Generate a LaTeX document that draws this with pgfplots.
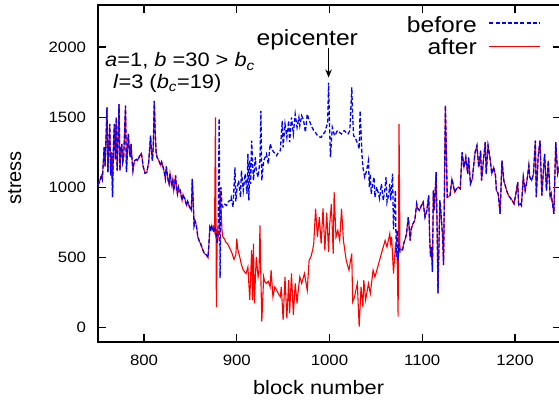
\documentclass[border=0pt]{standalone}
\usepackage{fontspec}
\setmainfont{Liberation Sans}[FakeStretch=1.12]
\newfontfamily\ylabfont{Liberation Sans}
\usepackage{pgfplots}
\usepackage{pgfplotstable}
\pgfplotsset{compat=1.18}
\usetikzlibrary{arrows.meta}
\definecolor{gpblue}{RGB}{0,0,255}
\definecolor{gpred}{RGB}{255,0,0}

\pgfplotstableread{
b s
750 1013
752 1040
754 1085
755 1060
757 1286
758 1150
760 1570
761 1108
762 1290
763 1452
764 1085
765 1250
766 930
767 1300
768 1452
769 1200
770 1499
771 1120
772 1350
773 1594
774 1120
775 1250
776 1310
777 1180
778 1215
779 1400
780 1582
781 1108
782 1250
783 1381
784 1280
785 1215
786 1310
787 1200
788 1120
789 1170
790 1191
792 1200
793 1191
795 1220
797 1243
798 1203
799 1150
801 1101
803 1108
805 1180
807 1369
808 1250
809 1191
810 1300
811 1617
812 1400
813 1250
814 1215
816 1190
818 1156
819 1180
821 1132
822 1100
823 1061
824 1150
825 1097
826 1050
827 1025
828 1100
829 1049
830 1010
831 1060
832 978
833 1020
834 1085
835 990
836 954
837 1000
838 970
839 978
840 940
841 907
842 950
843 930
844 919
845 890
846 871
847 900
848 883
849 860
850 850
851 836
852 1061
853 900
854 729
855 760
856 741
857 700
858 646
860 610
861 599
863 560
865 528
867 520
868 511
869 500
870 600
871 717
872 700
873 729
874 700
}\commonleft

\pgfplotstableread{
b s
874 700
875 690
876 720
877 700
878 650
879 600
880 750
881 1490
882 353
883 1002
884 870
885 860
887 880
889 871
891 900
893 907
894 930
896 860
898 1143
899 900
900 978
902 1049
904 930
905 1120
907 978
909 1097
911 954
912 1238
913 907
914 1191
915 1025
916 1333
918 1049
920 1215
921 1120
923 1073
925 1191
926 1546
927 1049
929 1191
931 1220
932 1238
934 1167
936 1310
938 1270
940 1250
942 1240
943 1227
945 1250
947 1262
949 1475
950 1286
952 1452
954 1357
956 1475
957 1322
959 1499
961 1381
963 1523
965 1428
967 1499
968 1440
970 1511
972 1480
974 1393
976 1523
978 1475
979 1464
981 1430
983 1405
985 1390
987 1369
989 1360
991 1357
993 1380
995 1393
997 1440
998 1452
999 1747
1000 1452
1001 1215
1003 1428
1005 1380
1006 1369
1008 1400
1009 1405
1011 1390
1013 1381
1015 1400
1016 1405
1018 1390
1020 1381
1022 1405
1024 1712
1025 1500
1026 1369
1028 1350
1029 1334
1031 1300
1032 1274
1033 1546
1034 1400
1035 1238
1036 1143
1038 1073
1040 1120
1042 1191
1043 1002
1044 1097
1045 954
1047 1040
1048 1073
1049 930
1051 1002
1053 950
1054 919
1056 1025
1058 907
1060 1000
1061 1073
1062 895
1064 950
1065 1025
1066 907
1068 1097
1069 700
1070 836
1071 978
1072 505
1073 693
1074 480
1075 600
1076 540
1078 552
}\beforemid

\pgfplotstableread{
b s
874 700
875 720
876 690
877 1499
878 149
879 700
880 650
881 700
882 978
883 860
884 700
885 646
887 630
888 610
890 599
893 560
895 528
897 486
899 520
900 635
901 560
903 510
905 450
907 410
910 386
912 432
914 197
916 552
917 197
918 599
919 173
921 505
923 362
924 400
925 729
926 350
927 43
929 362
930 330
932 315
934 330
936 291
937 410
939 220
941 290
943 267
945 240
947 220
948 290
950 55
952 362
954 67
956 338
957 102
959 386
961 91
963 315
965 173
966 250
968 362
970 315
973 386
976 267
978 481
980 505
982 560
983 599
985 848
987 646
989 788
991 599
993 850
995 550
997 820
999 540
1000 717
1002 883
1004 528
1005 966
1007 646
1009 693
1011 622
1013 848
1015 622
1018 481
1021 410
1024 528
1025 185
1027 220
1030 315
1032 7
1034 291
1036 149
1037 338
1039 197
1042 315
1044 244
1047 410
1049 362
1052 432
1055 505
1057 552
1060 622
1062 575
1065 670
1066 599
1067 646
1069 386
1071 575
1073 505
1074 78
1075 1452
1076 560
1078 552
}\aftermid

\pgfplotstableread{
b s
1078 552
1079 560
1080 599
1082 640
1083 670
1085 788
1087 620
1088 700
1090 741
1092 764
1094 883
1095 850
1097 836
1099 870
1101 895
1103 788
1105 836
1107 942
1108 646
1109 505
1110 575
1111 398
1112 978
1113 836
1115 1108
1116 741
1117 244
1119 907
1120 836
1122 646
1123 446
1125 1582
1127 930
1130 942
1132 1061
1134 1000
1135 966
1137 990
1139 1002
1141 990
1143 1250
1145 1143
1147 1215
1149 1097
1150 1215
1152 1025
1154 1061
1157 1250
1159 1298
1161 1143
1163 1262
1164 1049
1166 1191
1168 1322
1169 1097
1171 1298
1173 1215
1175 1097
1177 1143
1179 1085
1180 978
1182 954
1184 812
1186 1191
1188 1049
1191 978
1193 942
1197 907
1199 883
1201 954
1203 1037
1204 871
1206 883
1207 871
1209 1073
1211 978
1213 1049
1215 1156
1216 1073
1218 1049
1220 1097
1222 1333
1223 930
1225 1215
1227 1333
1229 942
1230 1049
1232 1238
1234 978
1236 1191
1238 930
1239 954
1242 812
1244 1322
1246 1097
1248 1150
1250 1000
}\commonright

\tikzset{
  beforestyle/.style={color=gpblue, line width=1.3pt, dash pattern=on 4pt off 2.2pt},
  afterstyle/.style={color=gpred, line width=1.1pt, solid},
}

\begin{document}
\begin{tikzpicture}
\begin{axis}[
  scale only axis,
  width=463.6pt, height=336.7pt,
  xmin=750, xmax=1250, ymin=-100, ymax=2300,
  xtick={800,900,1000,1100,1200},
  ytick={0,500,1000,1500,2000},
  tick pos=both,
  xticklabel pos=lower, yticklabel pos=left,
  tick align=inside,
  major tick length=8pt,
  minor tick num=0,
  axis line style={line width=1.8pt},
  every tick/.style={black, line width=1.3pt},
  tick label style={font=\fontsize{15}{18}\selectfont},
  /pgf/number format/assume math mode=true,
  /pgf/number format/1000 sep={},
  xticklabel style={inner sep=0pt, yshift=-13.5pt},
  yticklabel style={inner sep=0pt, xshift=-11.5pt},
  xlabel={block number},
  ylabel={stress},
  xlabel style={at={(axis description cs:0.4765,-0.1365)}, anchor=center, inner sep=0pt, font=\fontsize{19.5}{22}\selectfont},
  ylabel style={at={(axis description cs:-0.179,0.487)}, anchor=center, inner sep=0pt, font={\ylabfont\fontsize{20}{24}\selectfont}},
]
\addplot[afterstyle] table[x=b, y=s] {\commonleft};
\addplot[afterstyle] table[x=b, y=s] {\aftermid};
\addplot[afterstyle] table[x=b, y=s] {\commonright};
\addplot[beforestyle] table[x=b, y=s] {\commonleft};
\addplot[beforestyle] table[x=b, y=s] {\beforemid};
\addplot[beforestyle] table[x=b, y=s] {\commonright};

% key samples and arrow
\draw[beforestyle, line width=1.5pt] (axis description cs:0.8447,0.9459) -- (axis description cs:0.9541,0.9459);
\draw[afterstyle, line width=1.3pt] (axis description cs:0.8447,0.8761) -- (axis description cs:0.9541,0.8761);
\draw[black, line width=1.3pt, -{Stealth[length=8pt,width=6.5pt]}] (axis cs:999,1996) -- (axis cs:999,1783);

% key texts
\node[anchor=base east, inner sep=0pt, font=\fontsize{22}{24}\selectfont] at (axis description cs:0.8182,0.9177) {before};
\node[anchor=base east, inner sep=0pt, font=\fontsize{22}{24}\selectfont] at (axis description cs:0.8182,0.8515) {after};

\node[anchor=base, inner sep=0pt, font=\fontsize{22}{26}\selectfont] at (axis cs:976,2013) {epicenter};

\node[anchor=base west, inner sep=0pt, font=\fontsize{19.5}{22}\selectfont] at (axis description cs:0.0158,0.816)
  {\textit{a}=1, \textit{b} =30 > \textit{b}\textsubscript{\textit{c}}};
\node[anchor=base west, inner sep=0pt, font=\fontsize{19.5}{22}\selectfont] at (axis description cs:0.033,0.751)
  {\textit{l}=3 (\textit{b}\textsubscript{\textit{c}}=19)};

\coordinate (SW) at (rel axis cs:0,0);
\coordinate (NE) at (rel axis cs:1,1);
\end{axis}
\pgfresetboundingbox
\path[use as bounding box] ([xshift=-97.7pt,yshift=-61.3pt]SW) rectangle ([xshift=-2.3pt,yshift=5pt]NE);
\end{tikzpicture}
\end{document}
